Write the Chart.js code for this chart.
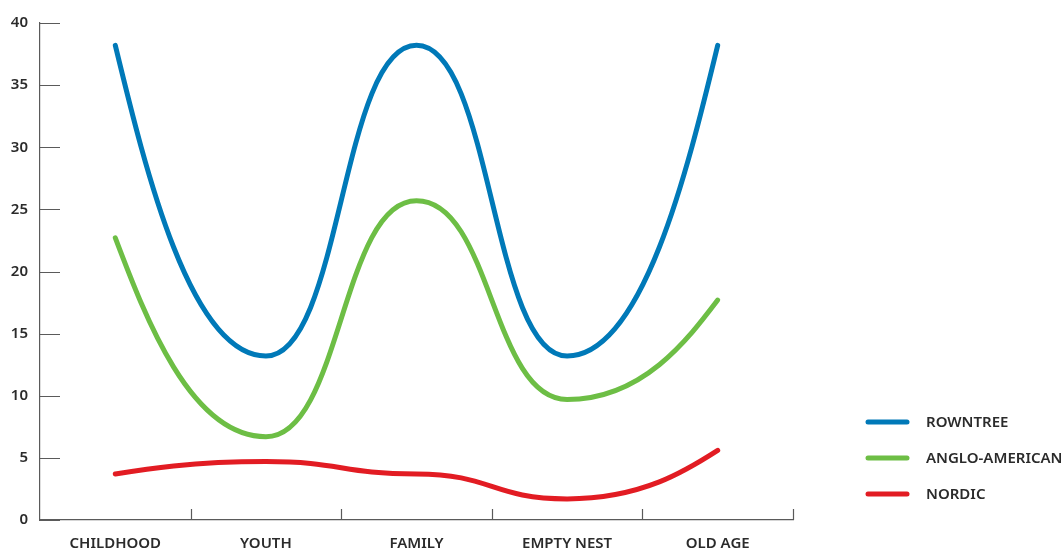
<!DOCTYPE html>
<html>
<head>
<meta charset="utf-8">
<script src="https://cdn.jsdelivr.net/npm/chart.js@4"></script>
<style>
  html, body { margin: 0; padding: 0; background: #fff; }
  #wrap { width: 1062px; height: 551px; position: relative; }
</style>
</head>
<body>
<div id="wrap"><canvas id="lifeCycleChart"></canvas></div>
<script>
// Categories and series
const stages = ['CHILDHOOD', 'YOUTH', 'FAMILY', 'EMPTY NEST', 'OLD AGE'];
const rowntree = [38.2, 13.2, 38.2, 13.2, 38.2];
const angloAmerican = [22.7, 6.7, 25.7, 9.7, 17.7];
const nordic = [3.7, 4.7, 3.7, 1.7, 5.6];
const yTicks = [0, 5, 10, 15, 20, 25, 30, 35, 40];

const AXIS_COLOR = '#5a5a5a';
const TEXT_COLOR = '#2b2b2b';
const FONT = '"Noto Sans", "Open Sans", sans-serif';

// The original curves have flat handles at every inner point and
// end handles that aim at the neighbour's handle. Rework the bezier
// control points Chart.js computed so the shape follows that.
const HANDLE = 0.5; // share of the gap for inner handles
const END_PULL = 0.4; // end handle, share of the way to the neighbour handle
const flatHandles = {
    id: 'flatHandles',
    beforeDatasetsDraw(chart) {
        chart.getSortedVisibleDatasetMetas().forEach(meta => {
            meta.dataset.updateControlPoints(chart.chartArea);
            const pts = meta.data;
            const n = pts.length;
            for (let i = 1; i < n - 1; i++) {
                const p = pts[i];
                p.cp1x = p.x - HANDLE * (p.x - pts[i - 1].x);
                p.cp1y = p.y;
                p.cp2x = p.x + HANDLE * (pts[i + 1].x - p.x);
                p.cp2y = p.y;
            }
            const first = pts[0], second = pts[1];
            const hx = second.x - HANDLE * (second.x - first.x);
            first.cp2x = first.x + END_PULL * (hx - first.x);
            first.cp2y = first.y + END_PULL * (second.y - first.y);
            const last = pts[n - 1], prev = pts[n - 2];
            const kx = prev.x + HANDLE * (last.x - prev.x);
            last.cp1x = last.x + END_PULL * (kx - last.x);
            last.cp1y = last.y + END_PULL * (prev.y - last.y);
        });
    }
};

// Draws the short inward tick marks on both axes
const innerTicks = {
    id: 'innerTicks',
    afterDraw(chart) {
        const { ctx, scales: { x, y }, chartArea } = chart;
        ctx.save();
        ctx.strokeStyle = AXIS_COLOR;
        ctx.lineWidth = 1.2;
        ctx.beginPath();
        yTicks.forEach(v => {
            const py = Math.round(y.getPixelForValue(v)) + 0.5;
            ctx.moveTo(chartArea.left, py);
            ctx.lineTo(chartArea.left + 20, py);
        });
        const step = x.getPixelForValue(1) - x.getPixelForValue(0);
        for (let i = 0; i < stages.length; i++) {
            const px = Math.round(x.getPixelForValue(i) + step / 2) + 0.5;
            ctx.moveTo(px, chartArea.bottom);
            ctx.lineTo(px, chartArea.bottom - 11);
        }
        ctx.stroke();
        ctx.restore();
    }
};

// Legend on the right, drawn from the datasets
const sideLegend = {
    id: 'sideLegend',
    afterDraw(chart) {
        const { ctx } = chart;
        ctx.save();
        ctx.font = '600 15px ' + FONT;
        ctx.textBaseline = 'middle';
        chart.data.datasets.forEach((ds, i) => {
            const yy = 422 + i * 36;
            ctx.strokeStyle = ds.borderColor;
            ctx.lineWidth = 5;
            ctx.lineCap = 'round';
            ctx.beginPath();
            ctx.moveTo(868, yy);
            ctx.lineTo(907, yy);
            ctx.stroke();
            ctx.fillStyle = TEXT_COLOR;
            ctx.fillText(ds.label, 926, yy + 1);
        });
        ctx.restore();
    }
};

const ctx = document.getElementById('lifeCycleChart').getContext('2d');
new Chart(ctx, {
    type: 'line',
    data: {
        labels: stages,
        datasets: [
            { label: 'ROWNTREE', data: rowntree, borderColor: '#0079b8' },
            { label: 'ANGLO-AMERICAN', data: angloAmerican, borderColor: '#6dbe45' },
            { label: 'NORDIC', data: nordic, borderColor: '#e21c23' }
        ].map(ds => ({
            ...ds,
            borderWidth: 5,
            borderCapStyle: 'round',
            pointRadius: 0,
            fill: false,
            tension: 0.4
        }))
    },
    options: {
        responsive: true,
        maintainAspectRatio: false,
        animation: false,
        layout: { padding: { top: 23, right: 269, bottom: 0, left: 0 } },
        plugins: {
            legend: { display: false },
            tooltip: { enabled: false }
        },
        scales: {
            x: {
                offset: true,
                grid: { display: false, offset: true, drawTicks: false },
                border: { display: true, color: AXIS_COLOR, width: 1.2 },
                afterFit: axis => { axis.height = 31; },
                ticks: {
                    color: TEXT_COLOR,
                    padding: 15,
                    maxRotation: 0,
                    font: { family: FONT, size: 15, weight: '600' }
                }
            },
            y: {
                min: 0,
                max: 40,
                grid: { display: false, drawTicks: false },
                border: { display: true, color: AXIS_COLOR, width: 1.2 },
                afterFit: axis => { axis.width = 40; },
                afterBuildTicks: axis => { axis.ticks = yTicks.map(v => ({ value: v })); },
                ticks: {
                    color: TEXT_COLOR,
                    padding: 12,
                    font: { family: FONT, size: 15, weight: '600' }
                }
            }
        }
    },
    plugins: [flatHandles, innerTicks, sideLegend]
});
</script>
</body>
</html>
